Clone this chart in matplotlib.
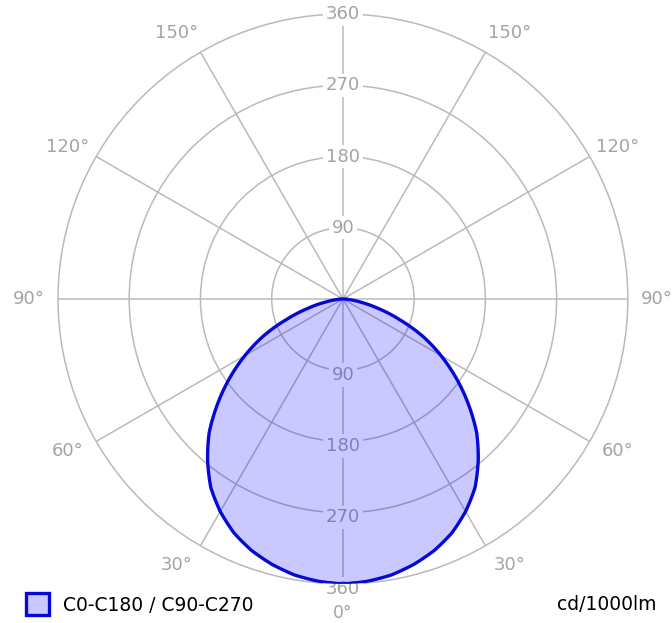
import numpy as np
import matplotlib.pyplot as plt

# luminous intensity (cd/1000lm) vs gamma angle, C0-C180 / C90-C270 (symmetric)
gamma_deg = [0, 5, 10, 15, 20, 25, 30, 35, 40, 45, 50, 55, 60, 65, 70, 75, 80, 85, 90]
intensity = [360, 358, 354, 347, 338, 326, 310, 291, 266, 239, 207, 175, 143, 111, 76, 46, 22, 7, 0]

ring_values = [90, 180, 270, 360]
side_angles = [30, 60, 90, 120, 150]
series_label = "C0-C180 / C90-C270"
unit_label = "cd/1000lm"

grid_col = "#bababa"
text_col = "#a4a4a4"

fig = plt.figure(figsize=(6.72, 6.23), dpi=100)
ax = fig.add_axes([0.0863, 0.0626, 0.848, 0.915], projection="polar")
ax.set_theta_zero_location("S")
ax.set_ylim(0, 360)
ax.set_thetagrids(range(0, 360, 30), labels=[])
ax.set_rgrids([90, 180, 270], labels=[])
ax.grid(color=grid_col, lw=1.1)
ax.spines["polar"].set_color(grid_col)
ax.spines["polar"].set_linewidth(1.1)
ax.set_axisbelow(True)

# ring labels on the vertical axis, top and bottom
for v in ring_values:
    ax.text(np.pi, v, str(v), ha="center", va="center", color=text_col, fontsize=13,
            bbox=dict(fc="white", ec="none", pad=2.0), zorder=3)
    ax.text(0.0, v + 6, str(v), ha="center", va="center", color=text_col, fontsize=13,
            bbox=dict(fc="white", ec="none", pad=2.0), zorder=3)

# angle labels round the outside
lab_r = 397
ax.text(0, 397, "0°", ha="center", va="center", color=text_col, fontsize=12.5, clip_on=False)
for g in side_angles:
    nudge = 2.0 if g in (30, 150) else 1.0
    a = g + nudge * np.sign(90 - g)
    for th in (np.deg2rad(a), -np.deg2rad(a)):
        ax.text(th, lab_r, f"{g}°", ha="center", va="center", color=text_col, fontsize=13,
                clip_on=False)

g = np.array(gamma_deg, dtype=float)
I = np.array(intensity, dtype=float)
theta = np.deg2rad(np.r_[-g[::-1], g[1:]])
r = np.r_[I[::-1], I[1:]]

fill = ax.fill(theta, r, facecolor=(0, 0, 1, 0.21), edgecolor="#0808d4", lw=2.4,
               zorder=4, label=series_label)[0]
fill.get_path()._interpolation_steps = 20

fig.legend(handles=[fill], loc="center left", bbox_to_anchor=(0.027, 0.03), frameon=False,
           fontsize=13.5, handlelength=1.25, handleheight=1.45, handletextpad=0.75,
           borderaxespad=0)
fig.text(0.977, 0.03, unit_label, ha="right", va="center", fontsize=13.5, color="black")

fig.savefig("out.png", dpi=100)
